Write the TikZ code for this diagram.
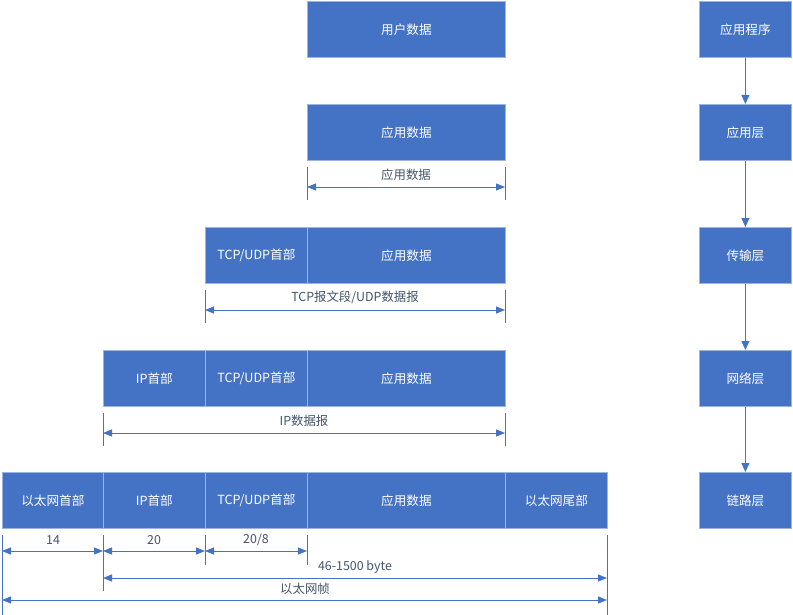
\documentclass[tikz,border=0pt]{standalone}
\usepackage{fontspec}
\setmainfont{Noto Sans CJK SC}
\usetikzlibrary{arrows.meta}
\definecolor{boxblue}{HTML}{4472C4}
\definecolor{boxedge}{HTML}{9DB4E0}
\definecolor{linecol}{HTML}{4472C4}
\definecolor{labcol}{HTML}{44546A}
\tikzset{
  box/.style={rectangle, fill=boxblue, draw=boxedge, line width=0.8pt, anchor=north west,
    minimum height=56pt, inner sep=0pt, text=white, font=\fontsize{12.6}{14}\selectfont},
  tick/.style={draw=linecol, line width=0.9pt},
  dim/.style={draw=linecol, line width=0.9pt, {Triangle[length=9pt,width=7pt]}-{Triangle[length=9pt,width=7pt]}},
  flow/.style={draw=linecol, line width=0.9pt, -{Triangle[length=9pt,width=8pt]}},
  lab/.style={text=labcol, font=\fontsize{12.4}{13}\selectfont, inner sep=0pt}
}
\begin{document}
\begin{tikzpicture}[x=1pt,y=-1pt]
\useasboundingbox (0,0) rectangle (793,615);
% row 1
\node[box, minimum width=198pt] (ud) at (307,1) {用户数据};
% row 2
\node[box, minimum width=198pt] (ad2) at (307,104) {应用数据};
% row 3
\node[box, minimum width=102pt] (tcp3) at (205,227) {TCP/UDP首部};
\node[box, minimum width=198pt] (ad3) at (307,227) {应用数据};
% row 4
\node[box, minimum width=102pt] (ip4) at (103,350) {IP首部};
\node[box, minimum width=102pt] (tcp4) at (205,350) {TCP/UDP首部};
\node[box, minimum width=198pt] (ad4) at (307,350) {应用数据};
% row 5
\node[box, minimum width=101pt] (eth5) at (2,472) {以太网首部};
\node[box, minimum width=102pt] (ip5) at (103,472) {IP首部};
\node[box, minimum width=102pt] (tcp5) at (205,472) {TCP/UDP首部};
\node[box, minimum width=198pt] (ad5) at (307,472) {应用数据};
\node[box, minimum width=102pt] (tail5) at (505,472) {以太网尾部};
% right column
\node[box, minimum width=92pt] (app) at (699,1) {应用程序};
\node[box, minimum width=92pt] (appl) at (699,104) {应用层};
\node[box, minimum width=92pt] (trans) at (699,227) {传输层};
\node[box, minimum width=92pt] (net) at (699,350) {网络层};
\node[box, minimum width=92pt] (link) at (699,472) {链路层};
\draw[flow] (app) -- (appl);
\draw[flow] (appl) -- (trans);
\draw[flow] (trans) -- (net);
\draw[flow] (net) -- (link);
% dimension row 2
\coordinate (a2t) at (307,167); \coordinate (a2b) at (307,200);
\coordinate (b2t) at (505,167); \coordinate (b2b) at (505,200);
\coordinate (a2) at (307,187); \coordinate (b2) at (505,187);
\draw[tick] (a2t) -- (a2b); \draw[tick] (b2t) -- (b2b);
\draw[dim] (a2) -- (b2);
\node[lab] (l2) at (406,175) {应用数据};
% dimension row 3
\coordinate (a3t) at (205,290); \coordinate (a3b) at (205,323);
\coordinate (b3t) at (505,290); \coordinate (b3b) at (505,323);
\coordinate (a3) at (205,310); \coordinate (b3) at (505,310);
\draw[tick] (a3t) -- (a3b); \draw[tick] (b3t) -- (b3b);
\draw[dim] (a3) -- (b3);
\node[lab] (l3) at (355,297.5) {TCP报文段/UDP数据报};
% dimension row 4
\coordinate (a4t) at (103,413); \coordinate (a4b) at (103,446);
\coordinate (b4t) at (505,413); \coordinate (b4b) at (505,446);
\coordinate (a4) at (103,433); \coordinate (b4) at (505,433);
\draw[tick] (a4t) -- (a4b); \draw[tick] (b4t) -- (b4b);
\draw[dim] (a4) -- (b4);
\node[lab] (l4) at (304,420.5) {IP数据报};
% dimension row 5
\coordinate (t0t) at (2,535); \coordinate (t0b) at (2,615);
\coordinate (t1t) at (103,535); \coordinate (t1b) at (103,591);
\coordinate (t2t) at (205,535); \coordinate (t2b) at (205,565);
\coordinate (t3t) at (307,535); \coordinate (t3b) at (307,565);
\coordinate (t5t) at (607,535); \coordinate (t5b) at (607,615);
\draw[tick] (t0t) -- (t0b);
\draw[tick] (t1t) -- (t1b);
\draw[tick] (t2t) -- (t2b);
\draw[tick] (t3t) -- (t3b);
\draw[tick] (t5t) -- (t5b);
\coordinate (d0) at (2,551); \coordinate (d1) at (103,551);
\coordinate (d2) at (205,551); \coordinate (d3) at (307,551);
\draw[dim] (d0) -- (d1);
\draw[dim] (d1) -- (d2);
\draw[dim] (d2) -- (d3);
\node[lab] (l14) at (53,540) {14};
\node[lab] (l20) at (154,540) {20};
\node[lab] (l208) at (256,540) {20/8};
\coordinate (e1) at (103,578); \coordinate (e5) at (607,578);
\draw[dim] (e1) -- (e5);
\node[lab] (lbyte) at (355,567) {46-1500 byte};
\coordinate (f0) at (2,600); \coordinate (f5) at (607,600);
\draw[dim] (f0) -- (f5);
\node[lab] (lframe) at (305,588.5) {以太网帧};
\end{tikzpicture}
\end{document}
